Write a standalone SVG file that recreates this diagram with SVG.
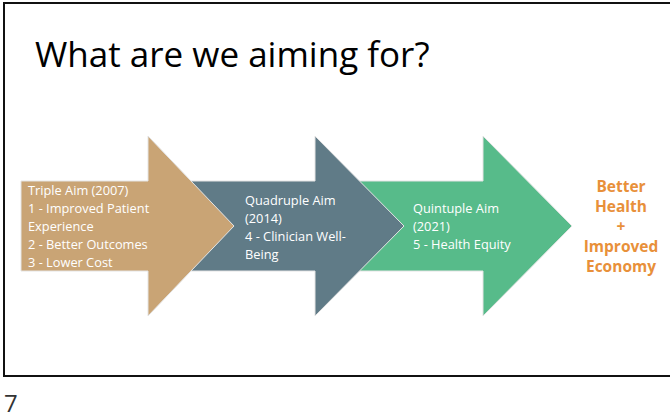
<svg xmlns="http://www.w3.org/2000/svg" width="670" height="418" viewBox="0 0 670 418">
  <style>
    .title { font-family: "Open Sans", "Liberation Sans", sans-serif; font-size: 35px; fill: #000000; }
    .pg { font-family: "Open Sans", "Liberation Sans", sans-serif; font-size: 24px; fill: #333333; }
    .lbl { font-family: "Open Sans", "Liberation Sans", sans-serif; font-size: 12.8px; fill: #ffffff; }
    .goal { font-family: "Open Sans", "Liberation Sans", sans-serif; font-size: 15.5px; font-weight: bold; fill: #E8903A; text-anchor: middle; }
    .arrow { stroke: #e4e4e4; stroke-width: 1; }
  </style>
  <rect x="0" y="0" width="670" height="418" fill="#ffffff"/>
  <rect id="frame" x="4" y="3" width="676" height="373" fill="#ffffff" stroke="#111111" stroke-width="2"/>
  <text class="title" x="35" y="67">What are we aiming for?</text>

  <g id="connectors"></g>

  <g id="quintuple">
    <polygon class="arrow" fill="#57BB8A" points="358,181 483,181 483,136 572,226 483,316 483,271 358,271"/>
    <text class="lbl" x="413" y="213">Quintuple Aim</text>
    <text class="lbl" x="413" y="231">(2021)</text>
    <text class="lbl" x="413" y="249">5 - Health Equity</text>
  </g>

  <g id="quadruple">
    <polygon class="arrow" fill="#607B87" points="189,181 315,181 315,136 404,226 315,316 315,271 189,271"/>
    <text class="lbl" x="245" y="204.5">Quadruple Aim</text>
    <text class="lbl" x="245" y="222.5">(2014)</text>
    <text class="lbl" x="245" y="240.5">4 - Clinician Well-</text>
    <text class="lbl" x="245" y="258.5">Being</text>
  </g>

  <g id="triple">
    <polygon class="arrow" fill="#C9A475" points="21,181 148,181 148,136 234,226 148,316 148,271 21,271"/>
    <text class="lbl" x="28" y="195">Triple Aim (2007)</text>
    <text class="lbl" x="28" y="213">1 - Improved Patient</text>
    <text class="lbl" x="28" y="231">Experience</text>
    <text class="lbl" x="28" y="249">2 - Better Outcomes</text>
    <text class="lbl" x="28" y="267">3 - Lower Cost</text>
  </g>

  <g id="outcome">
    <text class="goal" x="621" y="192">Better</text>
    <text class="goal" x="621" y="211.5">Health</text>
    <text class="goal" x="621" y="232">+</text>
    <text class="goal" x="621" y="252">Improved</text>
    <text class="goal" x="621" y="272">Economy</text>
  </g>

  <text class="pg" x="4" y="412">7</text>
</svg>
